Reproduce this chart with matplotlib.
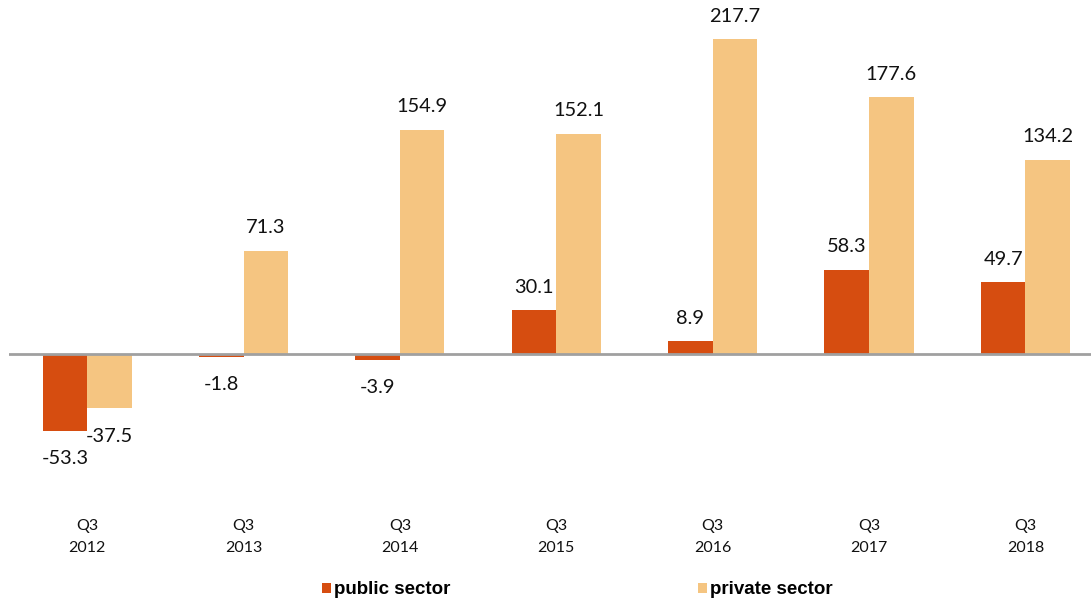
import matplotlib.pyplot as plt
import numpy as np

quarters = ["Q3\n2012", "Q3\n2013", "Q3\n2014", "Q3\n2015", "Q3\n2016", "Q3\n2017", "Q3\n2018"]
public = [-53.3, -1.8, -3.9, 30.1, 8.9, 58.3, 49.7]
private = [-37.5, 71.3, 154.9, 152.1, 217.7, 177.6, 134.2]

c_public = "#D64D10"
c_private = "#F5C581"

fig = plt.figure(figsize=(10.91, 6.02), dpi=100)
# axes: left 9px, right edge at figure edge, top at 0, bottom at 500px
ax = fig.add_axes([9 / 1091, 102 / 602, 1082 / 1091, 500 / 602])

x = np.arange(len(quarters))
w = 0.285
b1 = ax.bar(x - w / 2, public, w, color=c_public, label="public sector")
b2 = ax.bar(x + w / 2, private, w, color=c_private, label="private sector")

ax.axhline(0, color="#A0A0A0", lw=2, zorder=3)
ax.set_xlim(-0.5, 6.42)
ax.set_ylim(-100.9, 244.6)

for s in ax.spines.values():
    s.set_visible(False)
ax.set_xticks([])
ax.set_yticks([])

lab_font = dict(family=["Lato", "DejaVu Sans"], fontsize=14.4, color="#111111")
for xs, vals in ((x - w / 2, public), (x + w / 2, private)):
    for xi, v in zip(xs, vals):
        off = 16.5 if v >= 0 else -20
        ax.annotate(f"{v:.1f}", (xi, v), xytext=(0, off), textcoords="offset points",
                    ha="center", va="center", **lab_font)

for xi, q in zip(x, quarters):
    ax.annotate(q, (xi, 0), xycoords=("data", "figure fraction"),
                xytext=(xi, 1 - 537 / 602), textcoords=("data", "figure fraction"),
                ha="center", va="center", linespacing=1.75,
                family=["Lato", "DejaVu Sans"], fontsize=11.5, color="#111111")

fig.legend(handles=[b1, b2], loc="center", bbox_to_anchor=(577 / 1091, 1 - 590 / 602),
           ncol=2, frameon=False, handlelength=0.5, handleheight=0.5,
           handletextpad=0.15, columnspacing=13.2,
           prop=dict(family="Liberation Sans", weight="bold", size=13.5))

fig.savefig("out.png", dpi=100)
